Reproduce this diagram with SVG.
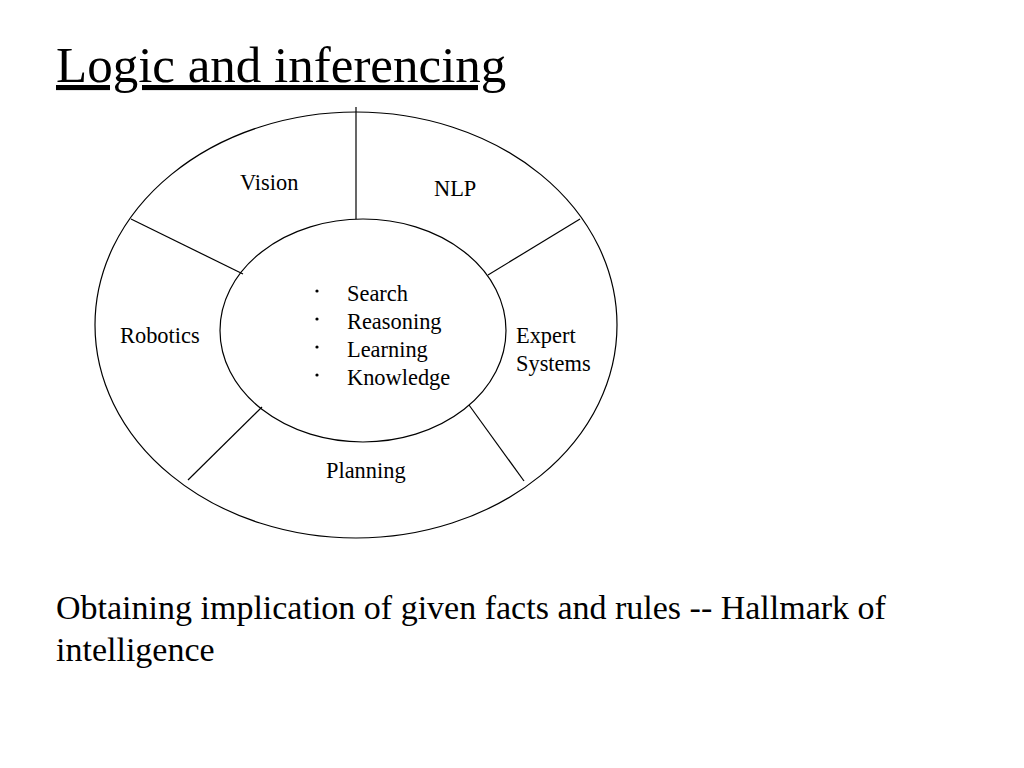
<svg xmlns="http://www.w3.org/2000/svg" width="1024" height="768" viewBox="0 0 1024 768">
<style>
text{font-family:"Liberation Serif","Times New Roman",serif;fill:#000}
.lbl{font-size:22.4px}
.shape{fill:none;stroke:#000;stroke-width:1.2}
</style>
<rect width="1024" height="768" fill="#fff"/>
<text x="56" y="82" font-size="51" text-decoration="underline">Logic and inferencing</text>
<g id="outer"><ellipse class="shape" cx="356" cy="325" rx="261" ry="213"/></g>
<g id="connectors">
<line class="shape" x1="356" y1="107" x2="356" y2="219"/>
<line class="shape" x1="131" y1="219" x2="243" y2="274"/>
<line class="shape" x1="580" y1="219" x2="488" y2="275"/>
<line class="shape" x1="188" y1="480" x2="262" y2="407"/>
<line class="shape" x1="524" y1="481" x2="469" y2="405"/>
</g>
<g id="core">
<ellipse class="shape" cx="363" cy="330.5" rx="143" ry="111.5" fill="#fff"/>
<circle cx="317" cy="291" r="1.6"/><text x="347" y="301" class="lbl">Search</text>
<circle cx="317" cy="319" r="1.6"/><text x="347" y="329" class="lbl">Reasoning</text>
<circle cx="317" cy="347" r="1.6"/><text x="347" y="357" class="lbl">Learning</text>
<circle cx="317" cy="375" r="1.6"/><text x="347" y="385" class="lbl">Knowledge</text>
</g>
<g id="vision"><text class="lbl" x="240" y="190">Vision</text></g>
<g id="nlp"><text class="lbl" x="434" y="196">NLP</text></g>
<g id="robotics"><text class="lbl" x="120" y="343">Robotics</text></g>
<g id="expert"><text class="lbl" x="516" y="343">Expert</text><text class="lbl" x="516" y="371">Systems</text></g>
<g id="planning"><text class="lbl" x="326" y="478">Planning</text></g>
<text x="56" y="619" font-size="34">Obtaining implication of given facts and rules -- Hallmark of</text>
<text x="56" y="661" font-size="34">intelligence</text>
</svg>
